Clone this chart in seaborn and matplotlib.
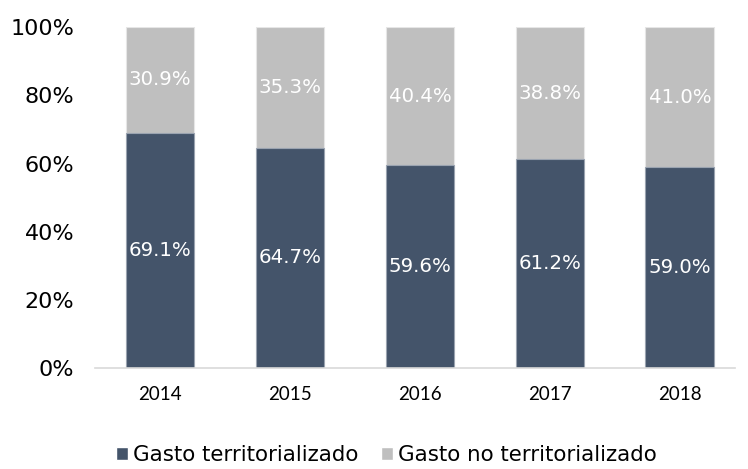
import pandas as pd
import matplotlib.pyplot as plt
import seaborn as sns
from matplotlib.patches import Patch
from matplotlib.ticker import PercentFormatter

# Data
years = ["2014", "2015", "2016", "2017", "2018"]
territorializado = [69.1, 64.7, 59.6, 61.2, 59.0]
no_territorializado = [30.9, 35.3, 40.4, 38.8, 41.0]

dark = "#44546A"
light = "#BFBFBF"

df = pd.DataFrame({"year": years, "terr": territorializado, "no_terr": no_territorializado})
df["total"] = df["terr"] + df["no_terr"]

sns.set_style("white")
plt.rcParams["font.family"] = ["DejaVu Sans"]
plt.rcParams["text.color"] = "black"
plt.rcParams["xtick.color"] = "black"
plt.rcParams["ytick.color"] = "black"

fig = plt.figure(figsize=(7.48, 4.69), dpi=100)
ax = fig.add_axes([0.127, 0.215, 0.855, 0.727])

# Stacked: full bar in light gray, dark portion on top of it
sns.barplot(data=df, x="year", y="total", color=light, width=0.53, saturation=1,
            edgecolor="#E6E6E6", linewidth=0.8, ax=ax)
sns.barplot(data=df, x="year", y="terr", color=dark, width=0.53, saturation=1,
            edgecolor="#9AA3B0", linewidth=0.8, ax=ax)

# Segment labels
for i, (t, n) in enumerate(zip(territorializado, no_territorializado)):
    ax.text(i, t / 2, f"{t:.1f}%", ha="center", va="center", color="white", fontsize=14.2)
    ax.text(i, t + n / 2, f"{n:.1f}%", ha="center", va="center", color="white", fontsize=14.2)

ax.set_ylim(0, 100)
ax.set_xlim(-0.5, 4.42)
ax.set_yticks([0, 20, 40, 60, 80, 100])
ax.yaxis.set_major_formatter(PercentFormatter(decimals=0))
ax.tick_params(axis="y", labelsize=16, length=0, pad=15)
ax.tick_params(axis="x", labelsize=13.5, length=0, pad=13)
for lbl in ax.get_xticklabels():
    lbl.set_family("Lato")
ax.set_xlabel("")
ax.set_ylabel("")

for side in ["top", "right", "left"]:
    ax.spines[side].set_visible(False)
ax.spines["bottom"].set_color("#D9D9D9")
ax.spines["bottom"].set_linewidth(1.2)

handles = [Patch(facecolor=dark, label="Gasto territorializado"),
           Patch(facecolor=light, label="Gasto no territorializado")]
fig.legend(handles=handles, loc="center", bbox_to_anchor=(0.516, 0.03), ncol=2,
           frameon=False, fontsize=15.4, handlelength=0.6, handleheight=0.6,
           handletextpad=0.2, columnspacing=1.05, borderpad=0.1)

plt.savefig("out.png", dpi=100)
